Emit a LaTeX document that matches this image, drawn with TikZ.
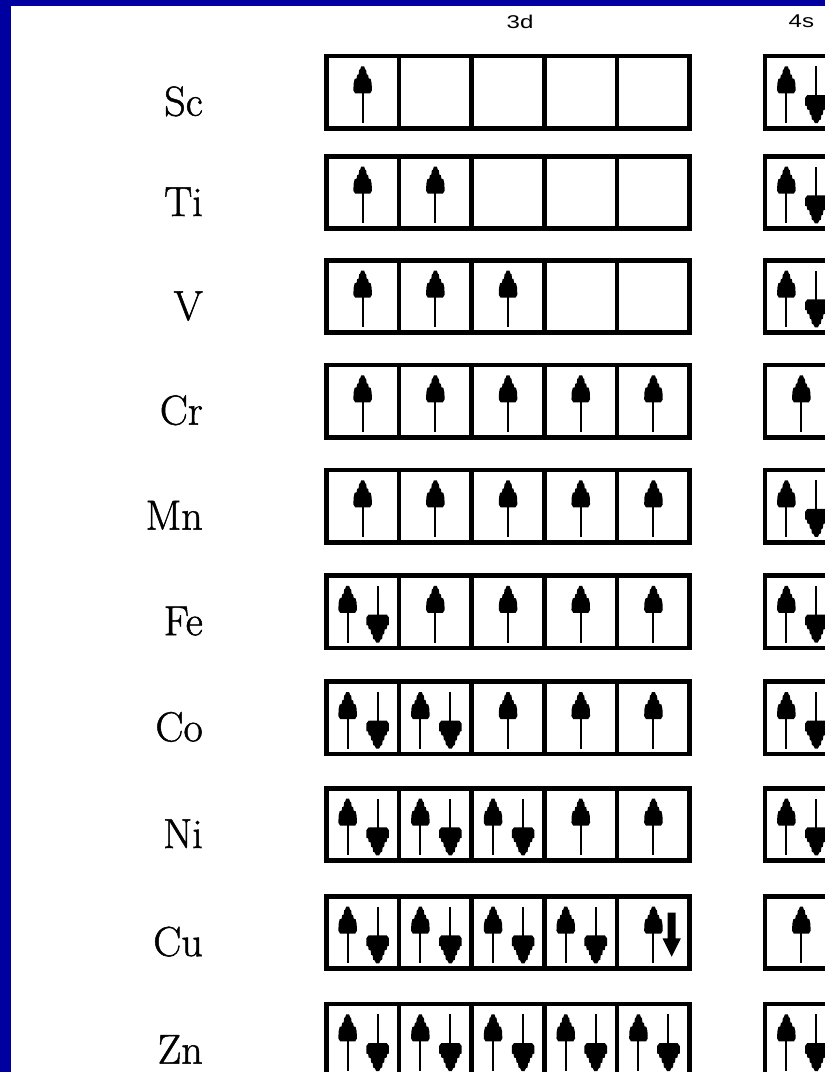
\documentclass[tikz,border=0pt]{standalone}
\usepackage{fontspec}
\newfontfamily\orbfont{Liberation Sans}
\newfontfamily\elfont{Latin Modern Roman}[FakeBold=1.2]
\usetikzlibrary{calc}
\definecolor{bordblue}{RGB}{0,0,160}
\tikzset{
  cell/.style={rectangle, draw, line width=4.7pt, minimum width=72.7pt,
    minimum height=72.3pt, inner sep=0pt, outer sep=0pt},
  elem/.style={anchor=base east, inner sep=0pt},
  orb/.style={inner sep=0pt},
  upspin/.pic={
    \fill (-1.5,0)--(1.5,0)--(2.5,3)--(3.5,3.5)--(4,8)--(5.5,8.5)--(6,12)
      --(8,12.5)--(9,17)--(9.3,24)--(7.5,27)
      --(-7.5,27)--(-9.3,24)--(-9,17)--(-8,12.5)--(-6,12)--(-5.5,8.5)--(-4,8)
      --(-3.5,3.5)--(-2.5,3)--cycle;
    \draw[line width=2pt] (0,20)--(0,56.6);
  },
  downspin/.pic={
    \fill (-1.5,0)--(1.5,0)--(3,-3)--(4.5,-3.5)--(5,-8)--(6.5,-8.5)--(7,-13)
      --(9,-13.5)--(9.5,-17)--(11.3,-17.5)--(11.3,-25)--(9,-28)
      --(-9,-28)--(-11.3,-25)--(-11.3,-17.5)--(-9.5,-17)--(-9,-13.5)--(-7,-13)
      --(-6.5,-8.5)--(-5,-8)--(-4.5,-3.5)--(-3,-3)--cycle;
    \draw[line width=2pt] (0,-20)--(0,-56.6);
  },
  bolddown/.pic={
    \fill (0,0)--(9.2,-18.4)--(4,-18.4)--(4,-44)--(-4,-44)--(-4,-18.4)
      --(-9.2,-18.4)--cycle;
  }
}
\newcommand\spins[2]{%
  \ifcase#2\relax
  \or \pic at ($(#1.center)+(0,-25.8)$) {upspin};
  \or \pic at ($(#1.center)+(-15,-25.8)$) {upspin};
      \pic at ($(#1.center)+(15,30.8)$) {downspin};
  \or \pic at ($(#1.center)+(0,-25.8)$) {upspin};
      \pic at ($(#1.center)+(18.25,24.2)$) {bolddown};
  \fi}
\newcommand\orbtext[1]{{\orbfont\fontsize{18.5pt}{20pt}\selectfont\scalebox{1.3}[1]{#1}}}
\begin{document}
\begin{tikzpicture}[x=1pt,y=-1pt]
\useasboundingbox (0,0) rectangle (825,1072);
\clip (0,0) rectangle (825,1072);
\fill[white] (0,0) rectangle (825,1072);
\fill[bordblue] (0,0) rectangle (11,1072);
\fill[bordblue] (0,0) rectangle (825,6);
\node[orb] (t3d) at (520,21.5) {\orbtext{3d}};
\node[orb] (t4s) at (801.35,21.5) {\orbtext{4s}};
\foreach \el/\T/\cfg/\s in {Sc/53.7/{1,0,0,0,0}/2, Ti/154/{1,1,0,0,0}/2,
    V/258/{1,1,1,0,0}/2, Cr/362.6/{1,1,1,1,1}/1, Mn/467.6/{1,1,1,1,1}/2,
    Fe/573.2/{2,1,1,1,1}/2, Co/679.3/{2,2,1,1,1}/2, Ni/786/{2,2,2,1,1}/2,
    Cu/894/{2,2,2,2,3}/1, Zn/1001.7/{2,2,2,2,2}/2}{
  \node[elem] (lab\el) at (203,\T+62) {\elfont\fontsize{42pt}{48pt}\selectfont\el};
  \foreach \n [count=\k] in \cfg {
    \node[cell] (d\el\k) at (326.3+72.7*\k-36.35,\T+38.5) {};
    \spins{d\el\k}{\n}
  }
  \node[cell] (s\el) at (801.35,\T+38.5) {};
  \spins{s\el}{\s}
}
\end{tikzpicture}
\end{document}
